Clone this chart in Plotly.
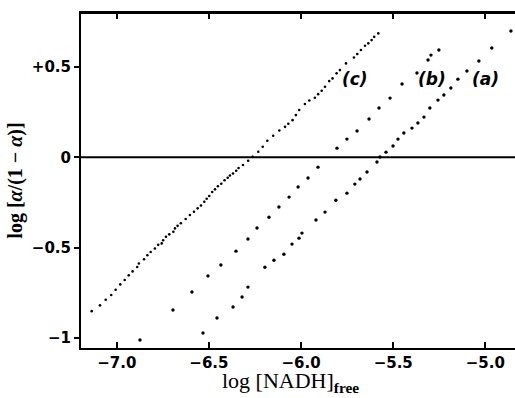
import plotly.graph_objects as go

# Series (c): log[NADH]free vs log[alpha/(1-alpha)]
c_x = [-7.136, -7.091, -7.060, -7.030, -7.006, -6.981, -6.957, -6.935, -6.914, -6.889,
       -6.880, -6.852, -6.834, -6.816, -6.793, -6.775, -6.756, -6.748, -6.733, -6.715,
       -6.693, -6.684, -6.670, -6.652, -6.626, -6.603, -6.581, -6.561, -6.543, -6.525,
       -6.512, -6.498, -6.482, -6.467, -6.451, -6.433, -6.415, -6.398, -6.386, -6.369,
       -6.352, -6.339, -6.315, -6.287, -6.263, -6.232, -6.208, -6.183, -6.151, -6.118,
       -6.087, -6.069, -6.046, -6.028, -6.010, -5.979, -5.955, -5.925, -5.907, -5.888,
       -5.870, -5.847, -5.829, -5.807, -5.789, -5.756, -5.713, -5.695, -5.675, -5.653,
       -5.635, -5.617, -5.603, -5.581]
c_y = [-0.851, -0.819, -0.788, -0.762, -0.733, -0.703, -0.679, -0.653, -0.631, -0.607,
       -0.587, -0.564, -0.542, -0.524, -0.504, -0.484, -0.476, -0.459, -0.439, -0.426,
       -0.412, -0.393, -0.379, -0.365, -0.341, -0.319, -0.301, -0.282, -0.266, -0.246,
       -0.229, -0.214, -0.192, -0.177, -0.160, -0.146, -0.127, -0.113, -0.100, -0.089,
       -0.074, -0.059, -0.042, -0.019, 0.003, 0.031, 0.059, 0.092, 0.120, 0.149,
       0.169, 0.186, 0.206, 0.234, 0.262, 0.295, 0.315, 0.330, 0.350, 0.369,
       0.391, 0.422, 0.437, 0.465, 0.483, 0.520, 0.553, 0.572, 0.594, 0.618,
       0.631, 0.649, 0.667, 0.686]

# Series (b)
b_x = [-6.874, -6.695, -6.592, -6.505, -6.435, -6.353, -6.288, -6.239, -6.174, -6.120,
       -6.065, -6.016, -5.962, -5.908, -5.805, -5.751, -5.696, -5.631, -5.577, -5.517,
       -5.452, -5.371, -5.311, -5.295, -5.252]
b_y = [-1.011, -0.845, -0.745, -0.656, -0.596, -0.519, -0.452, -0.391, -0.331, -0.275,
       -0.220, -0.164, -0.114, -0.054, 0.051, 0.101, 0.146, 0.212, 0.273, 0.328,
       0.406, 0.467, 0.539, 0.566, 0.594]

# Series (a)
a_x = [-6.532, -6.456, -6.369, -6.320, -6.288, -6.196, -6.147, -6.093, -6.049, -6.011,
       -5.995, -5.919, -5.870, -5.811, -5.751, -5.708, -5.680, -5.642, -5.588, -5.572,
       -5.539, -5.501, -5.474, -5.442, -5.398, -5.366, -5.333, -5.301, -5.257, -5.225,
       -5.187, -5.149, -5.100, -5.035, -4.965, -4.861]
a_y = [-0.972, -0.889, -0.828, -0.773, -0.718, -0.608, -0.569, -0.536, -0.480, -0.447,
       -0.419, -0.347, -0.303, -0.237, -0.198, -0.148, -0.120, -0.081, -0.026, 0.002,
       0.029, 0.063, 0.101, 0.135, 0.162, 0.190, 0.223, 0.273, 0.317, 0.345,
       0.384, 0.433, 0.478, 0.533, 0.605, 0.699]

series_labels = ["(c)", "(b)", "(a)"]
label_x = [-5.708, -5.290, -4.997]
label_y = [0.435, 0.435, 0.435]

x_ticks = [-7.0, -6.5, -6.0, -5.5, -5.0]
x_ticktext = ["<b>\u22127.0</b>", "<b>\u22126.5</b>", "<b>\u22126.0</b>", "<b>\u22125.5</b>", "<b>\u22125.0</b>"]
y_ticks = [0.5, 0, -0.5, -1]
y_ticktext = ["<b>+0.5</b>", "<b>0</b>", "<b>\u22120.5</b>", "<b>\u22121</b>"]

fig = go.Figure()
fig.add_trace(go.Scatter(x=c_x, y=c_y, mode="markers",
                         marker=dict(color="black", size=2.6), showlegend=False))
fig.add_trace(go.Scatter(x=b_x, y=b_y, mode="markers",
                         marker=dict(color="black", size=3.4), showlegend=False))
fig.add_trace(go.Scatter(x=a_x, y=a_y, mode="markers",
                         marker=dict(color="black", size=3.4), showlegend=False))

fig.add_hline(y=0, line=dict(color="black", width=2))
# top frame line
fig.add_shape(type="line", xref="paper", yref="paper", x0=0, x1=1, y0=1, y1=1,
              line=dict(color="black", width=2))

for t, lx, ly in zip(series_labels, label_x, label_y):
    fig.add_annotation(x=lx, y=ly, text="<b><i>" + t + "</i></b>", showarrow=False,
                       font=dict(family="DejaVu Sans", size=17, color="black"))

# x-axis title as annotation (placed slightly left of centre, as in the original)
fig.add_annotation(xref="paper", yref="paper", x=0.482, y=-0.102,
                   xanchor="center", yanchor="middle", showarrow=False,
                   text="log [NADH]<sub><b>free</b></sub>",
                   font=dict(family="Liberation Serif", size=22, color="black"))

fig.update_layout(
    width=515, height=398,
    margin=dict(l=81, r=0, t=13, b=50, autoexpand=False),
    plot_bgcolor="white", paper_bgcolor="white",
    font=dict(family="DejaVu Sans", color="black"),
    xaxis=dict(range=[-7.194, -4.839], tickvals=x_ticks, ticktext=x_ticktext,
               ticks="inside", ticklen=6, tickwidth=1.5, tickcolor="black",
               showline=True, linecolor="black", linewidth=2, mirror="ticks",
               showgrid=False, zeroline=False, automargin=False,
               tickfont=dict(family="DejaVu Sans", size=15)),
    yaxis=dict(range=[-1.055, 0.799], tickvals=y_ticks, ticktext=y_ticktext,
               ticks="outside", ticklen=5, tickwidth=1.5, tickcolor="black",
               showline=True, linecolor="black", linewidth=2,
               showgrid=False, zeroline=False, automargin=False,
               tickfont=dict(family="DejaVu Sans", size=15),
               title=dict(text="<b>log [<i>α</i>/(1 − <i>α</i>)]</b>",
                          font=dict(family="Liberation Serif", size=20), standoff=4)),
)

# remove the default 8px page margin so the figure fills the window exactly
fig.write_html("out.html", config={"displayModeBar": False},
               post_script="document.body.style.margin='0';document.body.style.overflow='hidden';")
